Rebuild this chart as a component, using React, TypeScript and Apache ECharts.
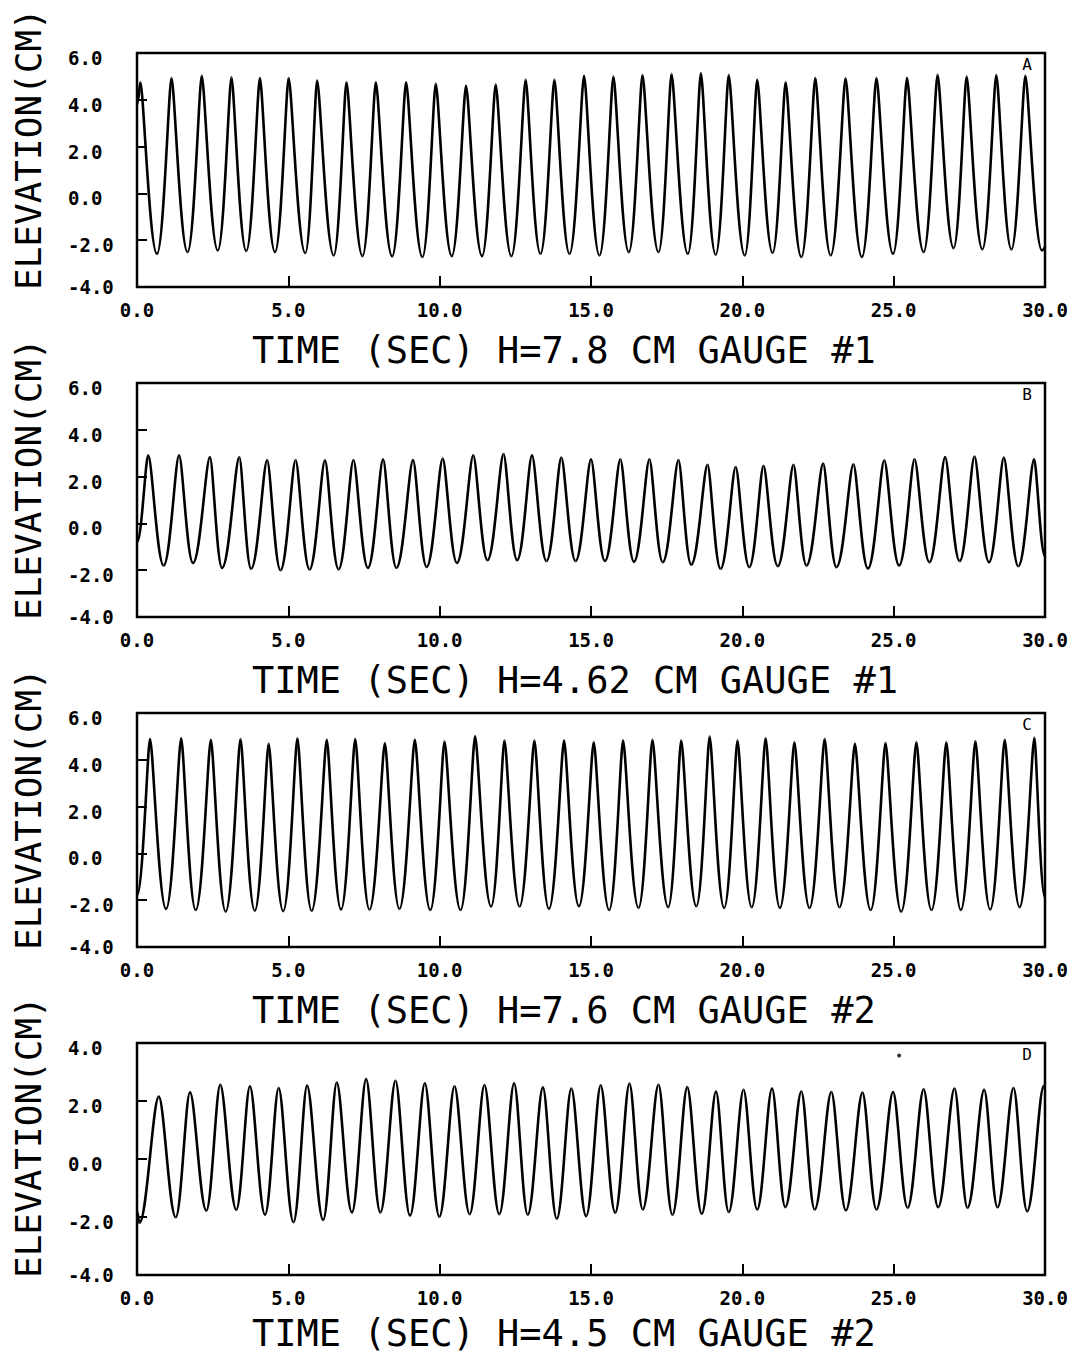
import React, { useEffect, useRef } from "react";
import * as echarts from "echarts";

// ---------- data ----------
const xTickLabels = ["0.0", "5.0", "10.0", "15.0", "20.0", "25.0", "30.0"];
const panelLetters = ["A", "B", "C", "D"];
const panelTitles = [
  "TIME (SEC) H=7.8 CM GAUGE #1",
  "TIME (SEC) H=4.62 CM GAUGE #1",
  "TIME (SEC) H=7.6 CM GAUGE #2",
  "TIME (SEC) H=4.5 CM GAUGE #2",
];
const yMins = [-4, -4, -4, -4];
const yMaxs = [6, 6, 6, 4];

// successive crests / troughs [time s, elevation cm]
const extremaA = [
  [0.0, 3.8], [0.11, 4.75], [0.66, -2.58], [1.14, 4.93], [1.67, -2.51], [2.14, 5.03], [2.67, -2.44],
  [3.12, 4.96], [3.61, -2.46], [4.06, 4.93], [4.56, -2.51], [5.01, 4.93], [5.56, -2.55], [5.95, 4.82],
  [6.5, -2.65], [6.92, 4.75], [7.45, -2.68], [7.89, 4.75], [8.43, -2.69], [8.89, 4.75], [9.43, -2.72],
  [9.87, 4.68], [10.4, -2.68], [10.87, 4.6], [11.4, -2.68], [11.85, 4.65], [12.37, -2.68], [12.84, 4.85],
  [13.33, -2.58], [13.79, 4.86], [14.29, -2.58], [14.77, 5.03], [15.28, -2.65], [15.74, 4.99], [16.25, -2.51],
  [16.7, 5.06], [17.23, -2.51], [17.66, 5.1], [18.2, -2.58], [18.63, 5.13], [19.12, -2.62], [19.55, 5.06],
  [20.08, -2.65], [20.49, 4.86], [21.0, -2.54], [21.43, 4.75], [21.95, -2.72], [22.41, 4.93], [22.92, -2.65],
  [23.41, 4.92], [23.95, -2.72], [24.43, 4.93], [24.98, -2.58], [25.44, 4.93], [25.99, -2.51], [26.45, 5.07],
  [26.98, -2.34], [27.41, 4.99], [27.93, -2.39], [28.39, 5.06], [28.89, -2.39], [29.35, 5.03], [29.9, -2.44],
  [30.0, -2.3],
];
const extremaB = [
  [0.0, -0.8], [0.37, 2.91], [0.88, -1.8], [1.39, 2.91], [1.85, -1.69], [2.41, 2.84], [2.81, -1.9],
  [3.38, 2.84], [3.77, -1.94], [4.3, 2.71], [4.74, -2.0], [5.24, 2.71], [5.7, -1.97], [6.21, 2.7],
  [6.66, -1.97], [7.15, 2.71], [7.63, -1.9], [8.13, 2.74], [8.57, -1.9], [9.12, 2.71], [9.57, -1.86],
  [10.1, 2.77], [10.57, -1.69], [11.11, 2.91], [11.58, -1.57], [12.11, 2.96], [12.56, -1.57], [13.05, 2.91],
  [13.53, -1.61], [14.02, 2.81], [14.49, -1.61], [15.0, 2.74], [15.46, -1.61], [15.97, 2.74], [16.42, -1.64],
  [16.93, 2.74], [17.37, -1.66], [17.89, 2.71], [18.31, -1.76], [18.85, 2.5], [19.28, -1.94], [19.78, 2.41],
  [20.23, -1.87], [20.7, 2.46], [21.17, -1.83], [21.69, 2.5], [22.12, -1.8], [22.67, 2.56], [23.11, -1.87],
  [23.67, 2.53], [24.15, -1.93], [24.69, 2.7], [25.18, -1.8], [25.69, 2.74], [26.18, -1.66], [26.7, 2.84],
  [27.18, -1.61], [27.67, 2.86], [28.15, -1.66], [28.64, 2.81], [29.12, -1.83], [29.64, 2.74], [30.0, -1.4],
];
const extremaC = [
  [0.0, -1.8], [0.43, 4.89], [0.96, -2.37], [1.46, 4.92], [1.94, -2.42], [2.44, 4.86], [2.93, -2.49],
  [3.42, 4.89], [3.89, -2.45], [4.35, 4.68], [4.83, -2.47], [5.3, 4.92], [5.77, -2.45], [6.27, 4.86],
  [6.74, -2.4], [7.21, 4.89], [7.68, -2.4], [8.19, 4.71], [8.67, -2.37], [9.18, 4.86], [9.69, -2.42],
  [10.16, 4.78], [10.69, -2.42], [11.17, 5.0], [11.7, -2.27], [12.14, 4.82], [12.64, -2.27], [13.13, 4.82],
  [13.61, -2.37], [14.11, 4.82], [14.6, -2.26], [15.09, 4.75], [15.6, -2.42], [16.06, 4.82], [16.57, -2.33],
  [17.03, 4.86], [17.55, -2.3], [17.98, 4.82], [18.48, -2.26], [18.92, 4.99], [19.4, -2.33], [19.84, 4.82],
  [20.31, -2.3], [20.77, 4.92], [21.24, -2.33], [21.72, 4.75], [22.22, -2.33], [22.72, 4.89], [23.21, -2.3],
  [23.72, 4.68], [24.24, -2.42], [24.73, 4.72], [25.25, -2.49], [25.75, 4.75], [26.25, -2.42], [26.74, 4.75],
  [27.22, -2.42], [27.7, 4.79], [28.19, -2.4], [28.67, 4.86], [29.16, -2.3], [29.65, 4.94], [30.0, -1.9],
];
const extremaD = [
  [0.0, -1.8], [0.08, -2.2], [0.72, 2.15], [1.28, -2.01], [1.75, 2.3], [2.29, -1.78], [2.75, 2.56],
  [3.28, -1.75], [3.73, 2.51], [4.23, -1.92], [4.68, 2.45], [5.17, -2.18], [5.62, 2.53], [6.15, -2.1],
  [6.6, 2.64], [7.1, -1.84], [7.57, 2.76], [8.04, -1.84], [8.54, 2.7], [9.02, -1.95], [9.51, 2.61],
  [9.99, -1.99], [10.49, 2.51], [10.99, -1.9], [11.48, 2.55], [11.97, -1.9], [12.46, 2.61], [12.91, -1.92],
  [13.41, 2.47], [13.87, -2.06], [14.35, 2.43], [14.84, -1.97], [15.32, 2.54], [15.8, -1.85], [16.27, 2.6],
  [16.71, -1.74], [17.23, 2.56], [17.69, -1.92], [18.18, 2.48], [18.66, -1.89], [19.13, 2.33], [19.55, -1.83],
  [20.04, 2.39], [20.49, -1.74], [20.98, 2.43], [21.42, -1.66], [21.95, 2.33], [22.39, -1.74], [22.94, 2.31],
  [23.42, -1.77], [23.97, 2.29], [24.43, -1.74], [24.98, 2.31], [25.46, -1.68], [25.99, 2.4], [26.47, -1.66],
  [27.01, 2.43], [27.44, -1.68], [27.99, 2.39], [28.43, -1.66], [28.96, 2.45], [29.41, -1.8], [29.96, 2.52],
  [30.0, 2.4],
];
const strayDotD = [[25.18, 3.57]];

const panelExtrema = [extremaA, extremaB, extremaC, extremaD];

// ---------- layout / style ----------
const GRID_LEFT = 137;
const GRID_WIDTH = 908;
const GRID_TOPS = [53, 383, 713, 1043];
const GRID_HEIGHTS = [234, 234, 234, 232];
// bezier control lengths (fraction of half-wave width) at troughs / crests
const TROUGH_K = [0.45, 0.42, 0.45, 0.38];
const CREST_K = [0.18, 0.24, 0.18, 0.3];
const MONO = '"DejaVu Sans Mono", "Liberation Mono", monospace';

function toSegments(ext: number[][]) {
  const segs: number[][] = [];
  for (let i = 0; i < ext.length - 1; i++) {
    segs.push([ext[i][0], ext[i][1], ext[i + 1][0], ext[i + 1][1]]);
  }
  return segs;
}

function buildOption() {
  const grids: any[] = [];
  const xAxes: any[] = [];
  const yAxes: any[] = [];
  const series: any[] = [];
  const graphics: any[] = [];

  for (let i = 0; i < 4; i++) {
    const top = GRID_TOPS[i];
    const h = GRID_HEIGHTS[i];
    const bottom = top + h;
    const yMin = yMins[i];
    grids.push({
      left: GRID_LEFT,
      top,
      width: GRID_WIDTH,
      height: h,
      show: true,
      borderColor: "#000",
      borderWidth: 2.5,
      backgroundColor: "transparent",
    });
    xAxes.push({
      gridIndex: i,
      type: "value",
      position: "bottom",
      min: 0,
      max: 30,
      interval: 5,
      axisLine: { show: false, onZero: false },
      axisTick: { inside: true, length: 11, lineStyle: { color: "#000", width: 2 } },
      splitLine: { show: false },
      axisLabel: {
        color: "#000",
        fontFamily: MONO,
        fontSize: 19,
        fontWeight: "bold",
        margin: 13,
        showMinLabel: true,
        showMaxLabel: true,
        formatter: (v: number) => xTickLabels[Math.round(v / 5)] ?? v.toFixed(1),
      },
    });
    yAxes.push({
      gridIndex: i,
      type: "value",
      position: "left",
      min: yMin,
      max: yMaxs[i],
      interval: 2,
      axisLine: { show: false, onZero: false },
      axisTick: { inside: true, length: 10, lineStyle: { color: "#000", width: 2 } },
      splitLine: { show: false },
      axisLabel: {
        color: "#000",
        fontFamily: MONO,
        fontSize: 19,
        fontWeight: "bold",
        align: "left",
        margin: 69,
        lineHeight: 10,
        showMinLabel: true,
        showMaxLabel: true,
        formatter: (v: number) => (v === yMin ? v.toFixed(1) : "\n" + v.toFixed(1)),
      },
    });

    const kT = TROUGH_K[i];
    const kC = CREST_K[i];
    series.push({
      type: "custom",
      xAxisIndex: i,
      yAxisIndex: i,
      silent: true,
      clip: true,
      encode: { x: [0, 2], y: [1, 3] },
      data: toSegments(panelExtrema[i]),
      renderItem: (params: any, api: any) => {
        const v0 = api.value(1);
        const v1 = api.value(3);
        const p0 = api.coord([api.value(0), v0]);
        const p1 = api.coord([api.value(2), v1]);
        const dx = p1[0] - p0[0];
        const rising = v1 > v0;
        const k0 = rising ? kT : kC;
        const k1 = rising ? kC : kT;
        return {
          type: "bezierCurve",
          shape: {
            x1: p0[0],
            y1: p0[1],
            x2: p1[0],
            y2: p1[1],
            cpx1: p0[0] + k0 * dx,
            cpy1: p0[1],
            cpx2: p1[0] - k1 * dx,
            cpy2: p1[1],
          },
          style: { stroke: "#000", lineWidth: 2.6, fill: "none" },
        };
      },
    });

    // axis-title texts
    graphics.push({
      type: "text",
      x: 252,
      y: Math.min(bottom + 63, 1333),
      style: {
        text: panelTitles[i],
        font: `37px ${MONO}`,
        fill: "#000",
        stroke: "#fff",
        lineWidth: 0.8,
        textAlign: "left",
        textVerticalAlign: "middle",
      },
    });
    graphics.push({
      type: "text",
      x: 28,
      y: bottom + 3,
      rotation: Math.PI / 2,
      style: {
        text: "ELEVATION(CM)",
        font: `36px ${MONO}`,
        fill: "#000",
        stroke: "#fff",
        lineWidth: 0.8,
        textAlign: "left",
        textVerticalAlign: "middle",
      },
    });
    graphics.push({
      type: "text",
      x: 1027,
      y: top + 11,
      style: {
        text: panelLetters[i],
        font: `16px ${MONO}`,
        fill: "#000",
        textAlign: "center",
        textVerticalAlign: "middle",
      },
    });
  }

  series.push({
    type: "scatter",
    xAxisIndex: 3,
    yAxisIndex: 3,
    silent: true,
    symbolSize: 4,
    itemStyle: { color: "#000" },
    data: strayDotD,
  });

  return {
    animation: false,
    backgroundColor: "#fff",
    grid: grids,
    xAxis: xAxes,
    yAxis: yAxes,
    series,
    graphic: { elements: graphics },
  };
}

export default function App() {
  const ref = useRef<HTMLDivElement>(null);
  useEffect(() => {
    if (!ref.current) return;
    const chart = echarts.init(ref.current, undefined, { renderer: "svg" });
    chart.setOption(buildOption() as any);
    return () => chart.dispose();
  }, []);
  return (
    <div
      ref={ref}
      style={{ position: "absolute", left: 0, top: 0, width: 1083, height: 1355, background: "#fff" }}
    />
  );
}
